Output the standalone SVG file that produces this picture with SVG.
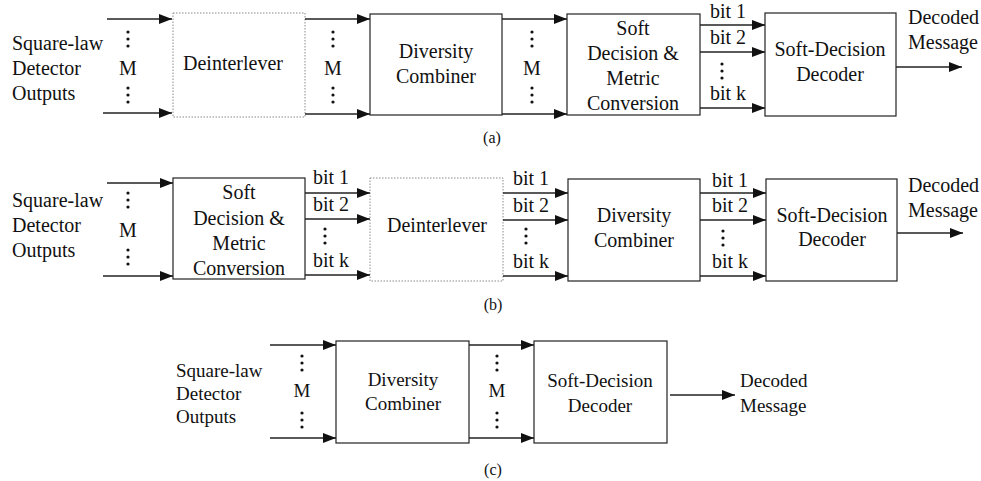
<svg xmlns="http://www.w3.org/2000/svg" width="981" height="481" viewBox="0 0 981 481">
<style>
text{font-family:"Liberation Serif","Times New Roman",serif;font-size:20px;fill:#111}
.c{text-anchor:middle}
.s19{font-size:19px}
.cap{font-size:16px;text-anchor:middle}
.box{fill:#fff;stroke:#222;stroke-width:1.2}
.dbox{fill:#fff;stroke:#8a8a8a;stroke-width:1;stroke-dasharray:1.5 1.5}
.ln{stroke:#222;stroke-width:1.3;fill:none;marker-end:url(#ah)}
.dot{fill:#111}
</style>
<defs>
<marker id="ah" markerWidth="13" markerHeight="10" refX="13" refY="5" orient="auto" markerUnits="userSpaceOnUse"><path d="M0,0 L13,5 L0,10 z" fill="#111"/></marker>
<g id="vd"><circle cx="0" cy="0" r="1.6"/><circle cx="0" cy="7" r="1.6"/><circle cx="0" cy="14" r="1.6"/></g>
</defs>

<!-- Row (a) -->
<g id="a-src"><text x="12" y="50">Square-law</text><text x="12" y="75">Detector</text><text x="12" y="100">Outputs</text></g>
<g id="a-deint"><rect class="dbox" x="173" y="13" width="132" height="104"/><text class="c" x="233" y="70">Deinterlever</text></g>
<g id="a-div"><rect class="box" x="370" y="14" width="132" height="101"/><text class="c" x="436" y="58">Diversity</text><text class="c" x="436" y="83">Combiner</text></g>
<g id="a-sdm"><rect class="box" x="567" y="14" width="133" height="101"/><text class="c" x="633" y="35">Soft</text><text class="c" x="633" y="60">Decision &amp;</text><text class="c" x="633" y="85">Metric</text><text class="c" x="633" y="110">Conversion</text></g>
<g id="a-sdd"><rect class="box" x="765" y="13" width="131" height="103"/><text class="c" x="830" y="56">Soft-Decision</text><text class="c" x="830" y="81">Decoder</text></g>
<g id="a-out"><text x="908" y="24">Decoded</text><text x="908" y="49">Message</text></g>
<text class="cap" x="492" y="143">(a)</text>

<!-- Row (b) -->
<g id="b-src"><text x="12" y="207">Square-law</text><text x="12" y="232">Detector</text><text x="12" y="257">Outputs</text></g>
<g id="b-sdm"><rect class="box" x="173" y="178" width="132" height="101"/><text class="c" x="239" y="199">Soft</text><text class="c" x="239" y="225">Decision &amp;</text><text class="c" x="239" y="250">Metric</text><text class="c" x="239" y="275">Conversion</text></g>
<g id="b-deint"><rect class="dbox" x="370" y="178" width="133" height="103"/><text class="c" x="437" y="232">Deinterlever</text></g>
<g id="b-div"><rect class="box" x="568" y="179" width="132" height="102"/><text class="c" x="634" y="222">Diversity</text><text class="c" x="634" y="247">Combiner</text></g>
<g id="b-sdd"><rect class="box" x="766" y="179" width="131" height="102"/><text class="c" x="832" y="222">Soft-Decision</text><text class="c" x="832" y="246">Decoder</text></g>
<g id="b-out"><text x="908" y="192">Decoded</text><text x="908" y="217">Message</text></g>
<text class="cap" x="493" y="310">(b)</text>

<!-- Row (c) -->
<g id="c-src"><text class="s19" x="176" y="377">Square-law</text><text class="s19" x="176" y="400">Detector</text><text class="s19" x="176" y="423">Outputs</text></g>
<g id="c-div"><rect class="box" x="336" y="341" width="133" height="102"/><text class="c s19" x="403" y="386">Diversity</text><text class="c s19" x="403" y="410">Combiner</text></g>
<g id="c-sdd"><rect class="box" x="534" y="341" width="133" height="102"/><text class="c s19" x="600" y="387">Soft-Decision</text><text class="c s19" x="600" y="412">Decoder</text></g>
<g id="c-out"><text class="s19" x="740" y="387">Decoded</text><text class="s19" x="740" y="412">Message</text></g>
<text class="cap" x="493" y="475">(c)</text>

<g id="connectors">
<!-- a -->
<line class="ln" x1="107" y1="19" x2="172" y2="19"/>
<line class="ln" x1="103" y1="113" x2="172" y2="113"/>
<line class="ln" x1="305" y1="19" x2="370" y2="19"/>
<line class="ln" x1="305" y1="114" x2="370" y2="114"/>
<line class="ln" x1="502" y1="19" x2="567" y2="19"/>
<line class="ln" x1="502" y1="114" x2="567" y2="114"/>
<line class="ln" x1="700" y1="25" x2="765" y2="25"/>
<line class="ln" x1="700" y1="52" x2="765" y2="52"/>
<line class="ln" x1="700" y1="108" x2="765" y2="108"/>
<line class="ln" x1="896" y1="67" x2="962" y2="67"/>
<!-- b -->
<line class="ln" x1="107" y1="183" x2="173" y2="183"/>
<line class="ln" x1="103" y1="276" x2="173" y2="276"/>
<line class="ln" x1="305" y1="193" x2="370" y2="193"/>
<line class="ln" x1="305" y1="219" x2="370" y2="219"/>
<line class="ln" x1="305" y1="275" x2="370" y2="275"/>
<line class="ln" x1="503" y1="193" x2="568" y2="193"/>
<line class="ln" x1="503" y1="220" x2="568" y2="220"/>
<line class="ln" x1="503" y1="276" x2="568" y2="276"/>
<line class="ln" x1="700" y1="193" x2="766" y2="193"/>
<line class="ln" x1="700" y1="220" x2="766" y2="220"/>
<line class="ln" x1="700" y1="276" x2="766" y2="276"/>
<line class="ln" x1="897" y1="233" x2="963" y2="233"/>
<!-- c -->
<line class="ln" x1="270" y1="345" x2="336" y2="345"/>
<line class="ln" x1="270" y1="438" x2="336" y2="438"/>
<line class="ln" x1="469" y1="345" x2="534" y2="345"/>
<line class="ln" x1="469" y1="438" x2="534" y2="438"/>
<line class="ln" x1="670" y1="395" x2="735" y2="395"/>
</g>

<g id="labels">
<!-- a -->
<g class="dot"><use href="#vd" x="128" y="32"/><use href="#vd" x="128" y="88"/><use href="#vd" x="333" y="32"/><use href="#vd" x="333" y="88"/><use href="#vd" x="532" y="32"/><use href="#vd" x="532" y="88"/><use href="#vd" x="722" y="64"/></g>
<text class="c" x="128" y="75">M</text><text class="c" x="333" y="75">M</text><text class="c" x="532" y="75">M</text>
<text x="710" y="18">bit 1</text><text x="710" y="44">bit 2</text><text x="710" y="100">bit k</text>
<!-- b -->
<g class="dot"><use href="#vd" x="128" y="193"/><use href="#vd" x="128" y="250"/><use href="#vd" x="325" y="229"/><use href="#vd" x="526" y="229"/><use href="#vd" x="723" y="231"/></g>
<text class="c" x="128" y="237">M</text>
<text x="313" y="184">bit 1</text><text x="313" y="211">bit 2</text><text x="313" y="267">bit k</text>
<text x="513" y="185">bit 1</text><text x="513" y="212">bit 2</text><text x="513" y="268">bit k</text>
<text x="712" y="187">bit 1</text><text x="712" y="212">bit 2</text><text x="712" y="268">bit k</text>
<!-- c -->
<g class="dot"><use href="#vd" x="302" y="356"/><use href="#vd" x="302" y="413"/><use href="#vd" x="497" y="356"/><use href="#vd" x="497" y="413"/></g>
<text class="c s19" x="302" y="397">M</text><text class="c s19" x="497" y="397">M</text>
</g>
</svg>
